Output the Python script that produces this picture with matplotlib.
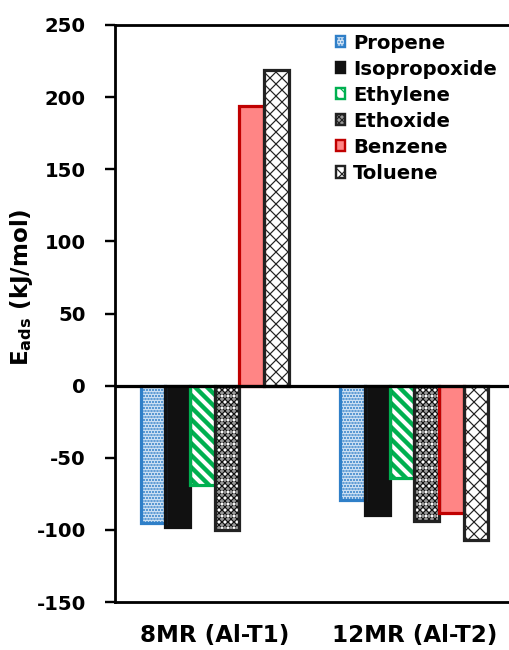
import numpy as np
import matplotlib
matplotlib.use('Agg')
import matplotlib.pyplot as plt
import matplotlib.patches as mpatches

plt.rcParams['font.family'] = ['DejaVu Sans']
plt.rcParams['font.weight'] = 'bold'
plt.rcParams['axes.unicode_minus'] = False
plt.rcParams['mathtext.fontset'] = 'custom'
plt.rcParams['mathtext.rm'] = 'DejaVu Sans:bold'
plt.rcParams['mathtext.it'] = 'DejaVu Sans:bold'
plt.rcParams['mathtext.bf'] = 'DejaVu Sans:bold'
plt.rcParams['hatch.linewidth'] = 0.6

# adsorption energies, kJ/mol
sites = ['8MR (Al-T1)', '12MR (Al-T2)']
species = ['Propene', 'Isopropoxide', 'Ethylene', 'Ethoxide', 'Benzene', 'Toluene']
propene = [-95, -79]
isopropoxide = [-98, -90]
ethylene = [-69, -64]
ethoxide = [-100, -94]
benzene = [194, -88]
toluene = [219, -107]
series = [propene, isopropoxide, ethylene, ethoxide, benzene, toluene]

# fill layers per species: (facecolor, hatch, hatch colour, hatch width)
layers = [
    [('#d3e4f5', '........', '#2f7fc8', 0.8)],
    [('#111111', None, '#111111', 0.6)],
    [('white', '\\\\\\\\', '#00b050', 2.2)],
    [('#9a9a9a', 'xxxxxxxx', '#111111', 0.5), ('none', '....', 'white', 0.6)],
    [('#ff8585', None, '#ff8585', 0.6)],
    [('white', 'xxxx', '#222222', 0.6)],
]
outline = ['#2f7fc8', '#111111', '#00b050', '#222222', '#c00000', '#222222']

dpi = 144
fig = plt.figure(figsize=(509 / dpi, 650 / dpi), dpi=dpi)
ax = fig.add_axes([115 / 509, 48 / 650, 399 / 509, 577 / 650])

x = np.arange(len(sites))
w = 0.1235
for i, vals in enumerate(series):
    pos = x + (i - 2.5) * w
    for face, hatch, hc, hlw in layers[i]:
        with plt.rc_context({'hatch.linewidth': hlw}):
            ax.bar(pos, vals, w, color=face, hatch=hatch, edgecolor=hc,
                   linewidth=0, zorder=2)
    ax.bar(pos, vals, w, color='none', edgecolor=outline[i], linewidth=1.6, zorder=3)

ax.axhline(0, color='black', linewidth=1.6, zorder=4)
ax.set_xlim(-0.5, 1.5)
ax.set_ylim(-150, 250)
ax.set_yticks(np.arange(-150, 251, 50))
ax.set_xticks(x)
ax.set_xticklabels(sites, fontsize=11.5, fontweight='bold')
ax.tick_params(axis='x', length=0, pad=11)
ax.tick_params(axis='y', direction='out', length=5, width=1.2, labelsize=9.8, pad=9.5)
for s in ['left', 'top', 'bottom']:
    ax.spines[s].set_linewidth(1.4)
ax.spines['right'].set_visible(False)
ax.set_ylabel(r'E$_{\mathrm{ads}}$ (kJ/mol)', fontsize=11.5, fontweight='bold')
ax.yaxis.set_label_coords(-0.2, 0.545)

handles = []
for i, name in enumerate(species):
    face, hatch, hc, hlw = layers[i][0]
    handles.append(mpatches.Patch(facecolor=face, hatch=hatch, edgecolor=outline[i],
                                  linewidth=1.2, label=name))
ax.legend(handles=handles, loc='upper left', bbox_to_anchor=(318 / 509, 1 - 16 / 650),
          bbox_transform=fig.transFigure, frameon=False, fontsize=9.8,
          handlelength=0.5, handleheight=0.5, handletextpad=0.4, labelspacing=0.36)

fig.savefig('out.png', dpi=dpi)
